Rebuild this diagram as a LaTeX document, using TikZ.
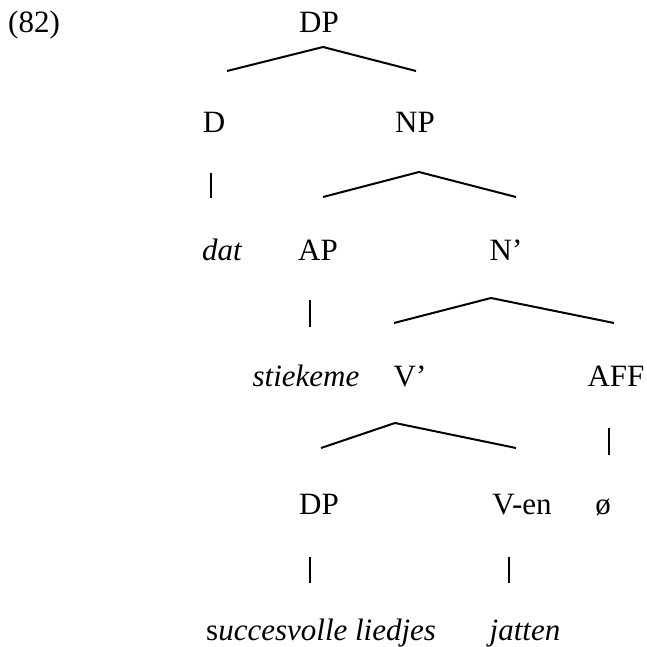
\documentclass[tikz,border=0pt]{standalone}
\usepackage{fontspec}
\setmainfont{Liberation Serif}
\begin{document}
\begin{tikzpicture}[x=1pt,y=-1pt,
  lbl/.style={inner sep=0pt,anchor=base,font=\fontsize{31}{37}\selectfont},
  branch/.style={line width=2pt,line join=miter},
  bar/.style={line width=2pt}]
\useasboundingbox (0,0) rectangle (647,647);
% labels
\node[lbl,anchor=base west] (ex) at (8,33) {(82)};
\node[lbl] (dp1) at (319,33) {DP};
\node[lbl] (d) at (214,133) {D};
\node[lbl] (np) at (415,133) {NP};
\node[lbl] (dat) at (222,260) {\itshape dat};
\node[lbl] (ap) at (318,260) {AP};
\node[lbl] (nbar) at (506,260) {N’};
\node[lbl] (stiek) at (306,386) {\itshape stiekeme};
\node[lbl] (vbar) at (410,386) {V’};
\node[lbl] (aff) at (616,386) {AFF};
\node[lbl] (dp2) at (319,514) {DP};
\node[lbl] (ven) at (522,514) {V-en};
\node[lbl] (nul) at (603,514) {ø};
\node[lbl,anchor=base west] (succ) at (206,640) {s\textit{uccesvolle liedjes}};
\node[lbl] (jat) at (525,640) {\itshape jatten};
% branch points
\coordinate (dpA) at (323,47);  \coordinate (dpL) at (227,71);  \coordinate (dpR) at (416,71);
\coordinate (npA) at (419,172); \coordinate (npL) at (323,197); \coordinate (npR) at (516,197);
\coordinate (nbA) at (491,298); \coordinate (nbL) at (394,323); \coordinate (nbR) at (614,323);
\coordinate (vbA) at (395,423); \coordinate (vbL) at (321,448); \coordinate (vbR) at (516,448);
\coordinate (dT) at (211,173);  \coordinate (dB) at (211,198);
\coordinate (apT) at (310,300); \coordinate (apB) at (310,327);
\coordinate (afT) at (609,428); \coordinate (afB) at (609,455);
\coordinate (dp2T) at (310,557); \coordinate (dp2B) at (310,583);
\coordinate (veT) at (509,557); \coordinate (veB) at (509,583);
% branches
\draw[branch] (dpL) -- (dpA) -- (dpR);
\draw[branch] (npL) -- (npA) -- (npR);
\draw[branch] (nbL) -- (nbA) -- (nbR);
\draw[branch] (vbL) -- (vbA) -- (vbR);
\draw[bar] (dT) -- (dB);
\draw[bar] (apT) -- (apB);
\draw[bar] (afT) -- (afB);
\draw[bar] (dp2T) -- (dp2B);
\draw[bar] (veT) -- (veB);
\end{tikzpicture}
\end{document}
